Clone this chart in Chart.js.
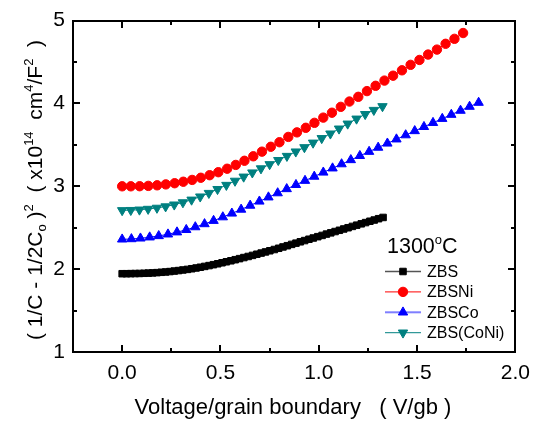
<!DOCTYPE html>
<html>
<head>
<meta charset="utf-8">
<script src="https://cdn.jsdelivr.net/npm/chart.js@4.4.0/dist/chart.umd.min.js"></script>
<style>
  html, body { margin: 0; padding: 0; background: #fff; }
  #wrap { position: relative; width: 539px; height: 425px; }
  #wrap canvas { position: absolute; left: 0; top: 0; }
  .frame { position: absolute; box-sizing: border-box; border: 2px solid #000; pointer-events: none; }
  .tk { position: absolute; background: #000; pointer-events: none; }
</style>
</head>
<body>
<div id="wrap"><canvas id="c" width="539" height="425"></canvas></div>
<script>
// values
const xZBS = [0.000, 0.022, 0.044, 0.066, 0.088, 0.111, 0.133, 0.155, 0.177, 0.199,
  0.221, 0.243, 0.265, 0.287, 0.309, 0.332, 0.354, 0.376, 0.398, 0.420,
  0.442, 0.464, 0.486, 0.508, 0.530, 0.553, 0.575, 0.597, 0.619, 0.641,
  0.663, 0.685, 0.707, 0.729, 0.751, 0.774, 0.796, 0.818, 0.840, 0.862,
  0.884, 0.906, 0.928, 0.950, 0.972, 0.995, 1.017, 1.039, 1.061, 1.083,
  1.105, 1.127, 1.149, 1.171, 1.193, 1.216, 1.238, 1.260, 1.282, 1.304, 1.327];
const yZBS = [1.945, 1.945, 1.946, 1.947, 1.948, 1.950, 1.952, 1.955, 1.958, 1.962,
  1.966, 1.971, 1.977, 1.983, 1.990, 1.997, 2.005, 2.014, 2.023, 2.033,
  2.043, 2.054, 2.065, 2.077, 2.089, 2.101, 2.114, 2.127, 2.140, 2.153,
  2.166, 2.180, 2.194, 2.208, 2.222, 2.237, 2.252, 2.268, 2.283, 2.299,
  2.314, 2.330, 2.345, 2.361, 2.376, 2.392, 2.407, 2.423, 2.438, 2.454,
  2.469, 2.485, 2.500, 2.516, 2.531, 2.547, 2.562, 2.578, 2.593, 2.609, 2.624];

const xZBSNi = [0.000, 0.044, 0.089, 0.133, 0.178, 0.222, 0.267, 0.311, 0.356, 0.400,
  0.445, 0.489, 0.534, 0.578, 0.622, 0.667, 0.711, 0.756, 0.800, 0.845,
  0.889, 0.934, 0.978, 1.023, 1.067, 1.112, 1.156, 1.201, 1.245, 1.289,
  1.334, 1.378, 1.423, 1.467, 1.512, 1.556, 1.601, 1.645, 1.690, 1.734];
const yZBSNi = [3.000, 3.000, 3.001, 3.005, 3.012, 3.023, 3.037, 3.055, 3.077, 3.103,
  3.134, 3.170, 3.212, 3.258, 3.308, 3.362, 3.418, 3.477, 3.532, 3.596,
  3.651, 3.706, 3.766, 3.829, 3.888, 3.959, 4.023, 4.080, 4.149, 4.213,
  4.276, 4.335, 4.400, 4.466, 4.525, 4.590, 4.650, 4.720, 4.780, 4.850];

const xZBSCo = [0.000, 0.047, 0.093, 0.140, 0.186, 0.233, 0.279, 0.326, 0.372, 0.419,
  0.465, 0.512, 0.558, 0.605, 0.651, 0.698, 0.744, 0.791, 0.837, 0.884,
  0.930, 0.977, 1.023, 1.070, 1.116, 1.163, 1.209, 1.256, 1.302, 1.349,
  1.395, 1.442, 1.488, 1.535, 1.581, 1.628, 1.674, 1.721, 1.767, 1.813];
const yZBSCo = [2.360, 2.364, 2.372, 2.385, 2.401, 2.421, 2.446, 2.475, 2.508, 2.545,
  2.585, 2.628, 2.673, 2.720, 2.768, 2.818, 2.868, 2.918, 2.968, 3.018,
  3.068, 3.118, 3.168, 3.218, 3.268, 3.318, 3.368, 3.418, 3.468, 3.518,
  3.568, 3.618, 3.668, 3.718, 3.767, 3.816, 3.865, 3.914, 3.962, 4.010];

const xZBSCoNi = [0.000, 0.044, 0.088, 0.132, 0.177, 0.221, 0.265, 0.309, 0.353, 0.397,
  0.441, 0.485, 0.530, 0.574, 0.618, 0.662, 0.706, 0.750, 0.794, 0.838,
  0.883, 0.927, 0.971, 1.015, 1.059, 1.103, 1.147, 1.192, 1.236, 1.280, 1.324];
const yZBSCoNi = [2.710, 2.712, 2.717, 2.726, 2.739, 2.756, 2.778, 2.805, 2.837, 2.875,
  2.918, 2.965, 3.015, 3.065, 3.115, 3.165, 3.215, 3.265, 3.315, 3.365,
  3.418, 3.470, 3.525, 3.580, 3.635, 3.695, 3.755, 3.815, 3.870, 3.920, 3.965];

const xTicks = [0, 0.5, 1.0, 1.5, 2.0];
const xMinor = [0.25, 0.75, 1.25, 1.75];
const yTicks = [1, 2, 3, 4, 5];
const yMinor = [1.5, 2.5, 3.5, 4.5];
const xRange = [-0.25, 2.0];
const yRange = [1, 5];

const legendTitle = '1300';
const FONT = 'Arial, "Liberation Sans", sans-serif';

function pts(xs, ys) {
  return xs.map((x, i) => ({ x: x, y: ys[i] }));
}

// text with sub/superscript pieces, left end at x, baseline y
function richWidth(ctx, parts, size) {
  let w = 0;
  parts.forEach(p => {
    ctx.font = (p.sup || p.sub ? Math.round(size * 0.62) : size) + 'px ' + FONT;
    w += ctx.measureText(p.t).width;
  });
  return w;
}
function drawRich(ctx, parts, x, y, size) {
  parts.forEach(p => {
    let dy = 0;
    if (p.sup) dy = -size * 0.42;
    if (p.sub) dy = size * 0.2;
    ctx.font = (p.sup || p.sub ? Math.round(size * 0.62) : size) + 'px ' + FONT;
    ctx.fillText(p.t, x, y + dy);
    x += ctx.measureText(p.t).width;
  });
}

const yTitle = [
  { t: '( 1/C - 1/2C' }, { t: 'o', sub: true }, { t: ' )' }, { t: '2', sup: true },
  { t: '  ( x10' }, { t: '14', sup: true }, { t: '  cm' }, { t: '4', sup: true },
  { t: '/F' }, { t: '2', sup: true }, { t: '  )' }
];
const xTitle = 'Voltage/grain boundary   ( V/gb )';

// frame and inward ticks as overlay boxes, placed from the chart's scales
function placeFrame(chart) {
  const wrap = document.getElementById('wrap');
  wrap.querySelectorAll('.frame, .tk').forEach(el => el.remove());
  const sx = chart.scales.x, sy = chart.scales.y;
  const L = Math.round(sx.getPixelForValue(xRange[0]));
  const R = Math.round(sx.getPixelForValue(xRange[1]));
  const B = Math.round(sy.getPixelForValue(yRange[0]));
  const T = Math.round(sy.getPixelForValue(yRange[1]));
  const box = (cls, l, t, w, h) => {
    const d = document.createElement('div');
    d.className = cls;
    d.style.left = l + 'px'; d.style.top = t + 'px';
    d.style.width = w + 'px'; d.style.height = h + 'px';
    wrap.appendChild(d);
  };
  box('frame', L - 1, T - 1, R - L + 2, B - T + 2);
  const xt = (vals, len) => vals.forEach(v => {
    const px = Math.round(sx.getPixelForValue(v));
    box('tk', px - 1, B - len, 1.5, len);
    box('tk', px - 1, T, 1.5, len);
  });
  const yt = (vals, len) => vals.forEach(v => {
    const py = Math.round(sy.getPixelForValue(v));
    box('tk', L, py - 1, len, 1.5);
    box('tk', R - len, py - 1, len, 1.5);
  });
  xt(xTicks, 7); xt(xMinor, 4);
  yt(yTicks, 7); yt(yMinor, 4);
}

const titlePlugin = {
  id: 'titles',
  afterDraw(chart) {
    const c = chart.ctx;
    c.save();
    c.fillStyle = '#000';
    c.textBaseline = 'alphabetic';
    c.font = '22px ' + FONT;
    c.textAlign = 'center';
    c.fillText(xTitle, 293, 414);
    c.textAlign = 'left';
    const size = 21;
    const w = richWidth(c, yTitle, size);
    c.translate(42, 190);
    c.rotate(-Math.PI / 2);
    drawRich(c, yTitle, -w / 2, 0, size);
    c.restore();
  }
};

const legendPlugin = {
  id: 'boxLegend',
  afterDraw(chart) {
    const c = chart.ctx;
    c.save();
    c.fillStyle = '#000';
    c.textBaseline = 'alphabetic';
    c.textAlign = 'left';
    drawRich(c, [{ t: legendTitle }, { t: 'o', sup: true }, { t: 'C' }], 387, 253, 21.5);

    chart.data.datasets.forEach((ds, i) => {
      const cy = 271.5 + i * 20.4;
      c.fillStyle = ds.legendLine;
      c.fillRect(385, cy - ds.legendLineWidth / 2, 36, ds.legendLineWidth);
      c.fillStyle = ds.pointBackgroundColor;
      c.strokeStyle = ds.pointBorderColor;
      c.lineWidth = 1;
      Chart.helpers.drawPoint(c, {
        pointStyle: ds.pointStyle, radius: ds.pointRadius,
        rotation: ds.pointRotation || 0, borderWidth: 1
      }, 403, cy);
      c.fillStyle = '#000';
      c.font = '16px ' + FONT;
      c.textBaseline = 'middle';
      c.fillText(ds.label, 427, cy + 1);
    });
    c.restore();
  }
};

const ctx = document.getElementById('c').getContext('2d');
const chart = new Chart(ctx, {
  type: 'scatter',
  data: {
    datasets: [
      {
        label: 'ZBS', data: pts(xZBS, yZBS), showLine: true,
        borderColor: '#000', borderWidth: 1,
        pointStyle: 'rect', pointRadius: 4.6,
        pointBackgroundColor: '#000', pointBorderColor: '#000',
        legendLine: '#555', legendLineWidth: 1.5
      },
      {
        label: 'ZBSNi', data: pts(xZBSNi, yZBSNi), showLine: true,
        borderColor: '#ff0000', borderWidth: 1,
        pointStyle: 'circle', pointRadius: 4.7,
        pointBackgroundColor: '#ff0000', pointBorderColor: '#ff0000',
        legendLine: '#ff0000', legendLineWidth: 1
      },
      {
        label: 'ZBSCo', data: pts(xZBSCo, yZBSCo), showLine: true,
        borderColor: '#0000ff', borderWidth: 1,
        pointStyle: 'triangle', pointRadius: 5.4,
        pointBackgroundColor: '#0000ff', pointBorderColor: '#0000ff',
        legendLine: '#7f7fff', legendLineWidth: 2
      },
      {
        label: 'ZBS(CoNi)', data: pts(xZBSCoNi, yZBSCoNi), showLine: true,
        borderColor: '#008080', borderWidth: 1,
        pointStyle: 'triangle', pointRotation: 180, pointRadius: 5.4,
        pointBackgroundColor: '#008080', pointBorderColor: '#008080',
        legendLine: '#008080', legendLineWidth: 1
      }
    ]
  },
  options: {
    responsive: false,
    animation: false,
    devicePixelRatio: 1,
    layout: { padding: { top: 9, right: 23, left: 0, bottom: 0 } },
    plugins: { legend: { display: false }, tooltip: { enabled: false } },
    scales: {
      x: {
        type: 'linear', min: xRange[0], max: xRange[1],
        grid: { display: false, drawTicks: false },
        border: { display: true, color: '#000', width: 1.5 },
        afterBuildTicks: s => { s.ticks = xTicks.map(v => ({ value: v })); },
        afterFit: s => { s.height = 73; },
        ticks: {
          color: '#000', padding: 9, maxRotation: 0,
          font: { family: FONT, size: 21 },
          callback: v => v.toFixed(1)
        }
      },
      y: {
        type: 'linear', min: yRange[0], max: yRange[1],
        grid: { display: false, drawTicks: false },
        border: { display: true, color: '#000', width: 1.5 },
        afterBuildTicks: s => { s.ticks = yTicks.map(v => ({ value: v })); },
        afterFit: s => { s.width = 73; },
        ticks: {
          color: '#000', padding: 8,
          font: { family: FONT, size: 21 },
          callback: v => String(v)
        }
      }
    }
  },
  plugins: [titlePlugin, legendPlugin]
});
placeFrame(chart);
</script>
</body>
</html>
